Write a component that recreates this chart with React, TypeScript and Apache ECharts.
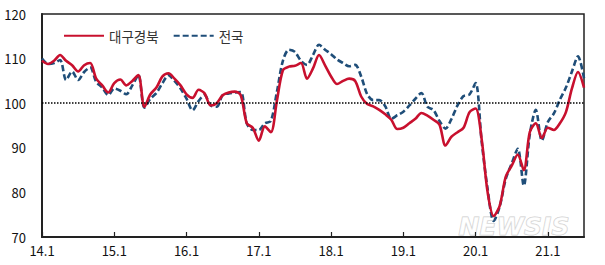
import React, { useEffect, useRef } from "react";
import * as echarts from "echarts";

const years = [14, 15, 16, 17, 18, 19, 20, 21];
const lastYearMonths = 7;
const categories: string[] = [];
years.forEach((y) => {
  const n = y === 21 ? lastYearMonths : 12;
  for (let m = 1; m <= n; m++) categories.push(`${y}.${m}`);
});

const daeguGyeongbuk = [
  109.5, 108.8, 109.5, 110.8, 109.5, 108.5, 107.1, 108.5, 109, 105.5, 104, 102.4,
  104.5, 105.3, 104, 105, 106.3, 99.2, 102, 103.5, 106, 106.7, 105.5, 104,
  102, 101.2, 103, 102.2, 99.5, 100, 101.8, 102.4, 102.6, 101.8, 95.5, 94.5,
  91.6, 94.8, 93.5, 100.5, 107.4, 108.2, 108.4, 109, 105.5, 107.8, 110.8, 108.5,
  106, 104.3, 105, 105.5, 105, 101.5, 99.8, 99.3, 98.5, 97.5, 96.3, 94.2,
  94.5, 95.5, 96.5, 97.8, 97.2, 96.3, 95.2, 90.5, 92.5, 93.5, 94.5, 98,
  98.8, 92, 80, 74.7, 77, 83.5, 86, 88.5, 85, 93.5, 95.5, 92.2,
  94.5, 94, 95.5, 98, 103.3, 107, 103.5,
];

const nationwide = [
  110, 108.8, 109, 109.7, 105.2, 107.1, 105.2, 107, 108, 104.8, 103.5, 101.8,
  103.3, 102.8, 102, 104, 106.3, 99, 101, 102.3, 104.5, 106.3, 105, 103.3,
  101, 98.4, 100.5, 101.8, 99.5, 99.2, 101.8, 102.2, 102.4, 102.5, 95.5, 94,
  94, 95.5, 96, 102.5, 109.5, 112, 111.5, 109.5, 108.6, 110.8, 113.1, 112,
  111, 109.8, 109, 108.3, 108.6, 106, 102, 100.7, 100.7, 99.3, 96.5, 97.3,
  98.1, 99.5, 101, 102.3, 99.2, 98.5, 96, 94.3, 96.5, 99.5, 101.6, 102,
  104.5, 91.5, 80.7, 73.6, 76.8, 83, 86.5, 89.8, 81.5, 93, 98.5, 91.6,
  95.8, 97.7, 100.8, 103.5, 107.1, 110.5, 105.6,
];

const seriesNames = ["대구경북", "전국"];
const yMin = 70;
const yMax = 120;
const yStep = 10;
const referenceLevel = 100;

const FONT = "'Noto Sans CJK KR', 'Noto Sans', sans-serif";

export default function App() {
  const ref = useRef<HTMLDivElement>(null);
  useEffect(() => {
    if (!ref.current) return;
    const chart = echarts.init(ref.current, null, { renderer: "svg" });
    chart.setOption({
      animation: false,
      backgroundColor: "#fff",
      grid: {
        left: 42,
        right: 21,
        top: 14,
        bottom: 28,
        show: true,
        borderColor: "#222",
        borderWidth: 1.5,
      },
      legend: {
        left: 58,
        top: 24,
        itemWidth: 40,
        itemHeight: 12,
        itemGap: 14,
        itemStyle: { opacity: 0 },
        textStyle: { fontFamily: FONT, fontSize: 13.5, color: "#333" },
        data: seriesNames,
      },
      xAxis: {
        type: "category",
        data: categories,
        boundaryGap: false,
        axisLine: { lineStyle: { color: "#222", width: 2 } },
        axisTick: { show: true, inside: true, interval: 11, length: 5, lineStyle: { color: "#222", width: 1.2 } },
        axisLabel: { interval: 11, margin: 7, fontFamily: FONT, fontSize: 13, color: "#111" },
        splitLine: { show: false },
      },
      yAxis: {
        type: "value",
        min: yMin,
        max: yMax,
        interval: yStep,
        axisLine: { show: true, lineStyle: { color: "#222", width: 2 } },
        axisTick: { show: false },
        axisLabel: { margin: 16, fontFamily: FONT, fontSize: 13, color: "#111" },
        splitLine: { show: false },
      },
      series: [
        {
          name: seriesNames[0],
          type: "line",
          data: daeguGyeongbuk,
          symbol: "none",
          smooth: 0.3,
          z: 3,
          lineStyle: { color: "#c8102e", width: 2.6 },
          itemStyle: { color: "#c8102e" },
          markLine: {
            silent: true,
            symbol: "none",
            label: { show: false },
            lineStyle: { color: "#000", type: "dotted", width: 1.5 },
            data: [{ yAxis: referenceLevel }],
          },
        },
        {
          name: seriesNames[1],
          type: "line",
          data: nationwide,
          symbol: "none",
          smooth: 0.3,
          z: 2,
          lineStyle: { color: "#1f4e79", width: 2.6, type: [6, 3] },
          itemStyle: { color: "#1f4e79" },
        },
      ],
      graphic: [
        {
          type: "text",
          left: 458,
          top: 213,
          silent: true,
          style: {
            text: "NEWSIS",
            fontFamily: "'DejaVu Sans', sans-serif",
            fontSize: 25,
            fontWeight: "bold",
            fontStyle: "italic",
            fill: "rgba(255,255,255,0.6)",
            stroke: "rgba(190,190,190,0.8)",
            lineWidth: 1,
          },
        },
      ],
    });
    return () => chart.dispose();
  }, []);
  return <div ref={ref} style={{ width: 605, height: 265, position: "absolute", left: 0, top: 0 }} />;
}
